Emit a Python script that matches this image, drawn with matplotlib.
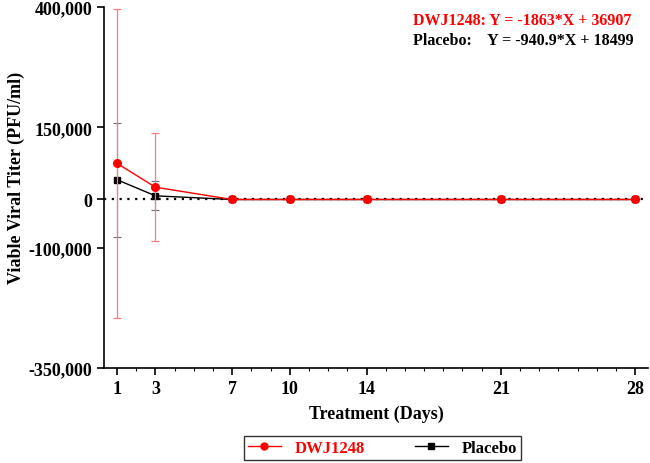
import numpy as np
import matplotlib.pyplot as plt
from matplotlib.lines import Line2D
from matplotlib.ticker import FixedLocator, MultipleLocator

# data
days = [1, 3, 7, 10, 14, 21, 28]
dwj_mean = [75000, 25500, 0, 0, 0, 0, 0]
dwj_sd = [321000, 112000, 0, 0, 0, 0, 0]
placebo_mean = [41000, 7600, 0, 0, 0, 0, 0]
placebo_sd = [118000, 30000, 0, 0, 0, 0, 0]

y_ticks = [400000, 150000, 0, -100000, -350000]
x_ticks = [1, 3, 7, 10, 14, 21, 28]

RED = "#ff0000"
SERIF = ["Liberation Serif", "DejaVu Serif"]

plt.rcParams["font.family"] = SERIF
plt.rcParams["font.weight"] = "bold"

fig = plt.figure(figsize=(6.5, 4.64), dpi=100)
ax = fig.add_axes([0.16, 0.2047, 0.837, 0.7783])

ax.axhline(0, color="black", linestyle=(0, (1, 2.5)), linewidth=1.6, zorder=1)

ax.errorbar(days, placebo_mean, yerr=placebo_sd, color="black", ecolor="#707070",
            elinewidth=0.8, capsize=3, capthick=0.8, marker="s", markersize=5,
            linewidth=1.0, zorder=3)
ax.errorbar(days, dwj_mean, yerr=dwj_sd, color=RED, ecolor="#f08080",
            elinewidth=0.9, capsize=3, capthick=0.9, marker="o", markersize=5.5,
            linewidth=1.0, zorder=4)

ax.set_xlim(0.32, 28.67)
ax.set_ylim(-350000, 400000)
ax.yaxis.set_major_locator(FixedLocator(y_ticks))
ax.set_yticklabels([f"{v:,}" for v in y_ticks])
ax.xaxis.set_major_locator(FixedLocator(x_ticks))
ax.xaxis.set_minor_locator(MultipleLocator(1))

ax.spines["top"].set_visible(False)
ax.spines["right"].set_visible(False)
for s in ("left", "bottom"):
    ax.spines[s].set_linewidth(1.2)
ax.tick_params(axis="both", which="major", labelsize=13, length=5, width=1.2)
ax.tick_params(axis="x", which="minor", length=2, width=0.8)
for lab in ax.get_xticklabels() + ax.get_yticklabels():
    lab.set_fontweight("bold")

ax.set_xlabel("Treatment (Days)", fontsize=13, fontweight="bold", labelpad=6)
ax.set_ylabel("Viable Viral Titer (PFU/ml)", fontsize=13, fontweight="bold", labelpad=0)
ax.yaxis.set_label_coords(-0.145, 0.53)

fig.text(0.635, 0.955, "DWJ1248: Y = -1863*X + 36907", color=RED, fontsize=11.5,
         fontweight="bold", va="center")
fig.text(0.635, 0.912, "Placebo:    Y = -940.9*X + 18499", color="black", fontsize=11.5,
         fontweight="bold", va="center")

handles = [Line2D([], [], color=RED, marker="o", markersize=5, linewidth=1.0),
           Line2D([], [], color="black", marker="s", markersize=5, linewidth=1.0)]
leg = fig.legend(handles, ["DWJ1248", "Placebo"], loc="center", bbox_to_anchor=(0.588, 0.032),
                 ncol=2, frameon=True, fancybox=False, edgecolor="black", fontsize=12,
                 handlelength=2.0, columnspacing=3.0, borderpad=0.25)
leg.get_frame().set_linewidth(1.0)
for t in leg.get_texts():
    t.set_fontweight("bold")
leg.get_texts()[0].set_color(RED)

fig.savefig("out.png", dpi=100)
